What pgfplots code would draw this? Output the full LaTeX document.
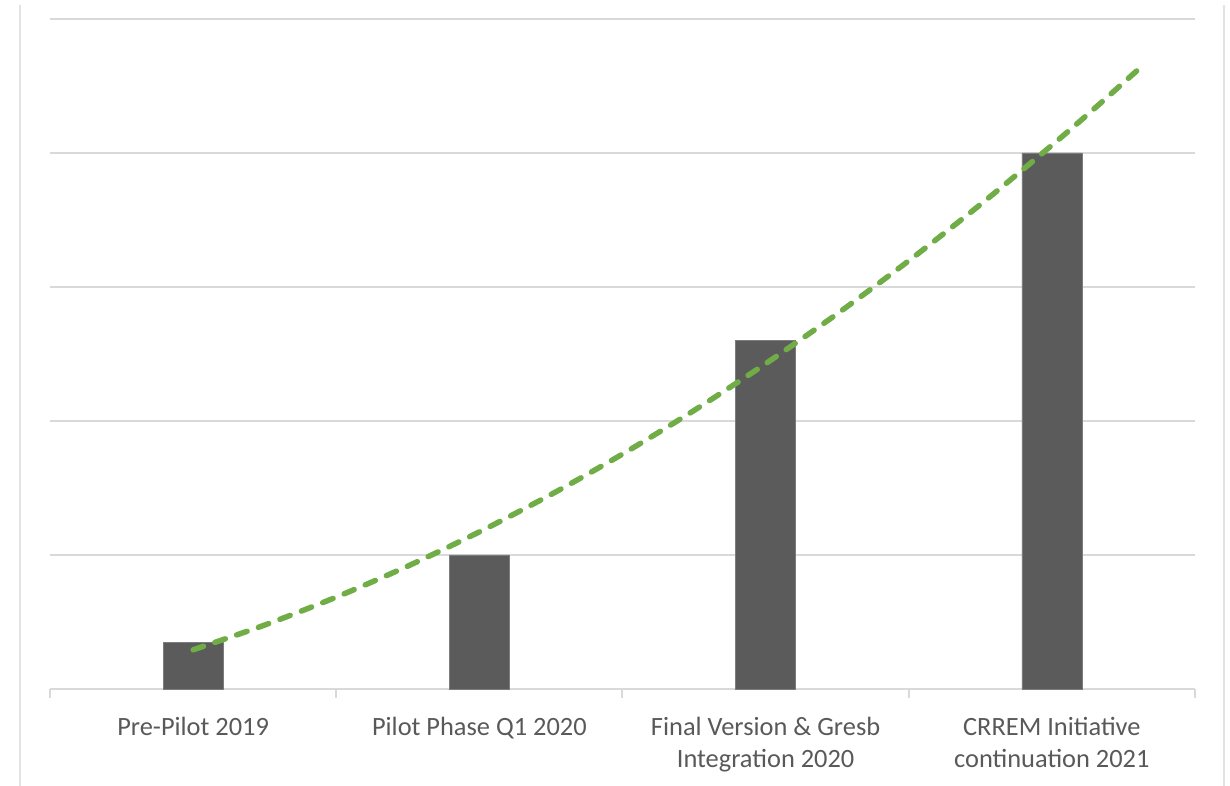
\documentclass[border=0pt]{standalone}
\usepackage{pgfplots}
\pgfplotsset{compat=1.18}
\usepackage{fontspec}
\setmainfont{Carlito}
\definecolor{bargray}{HTML}{5B5B5B}
\definecolor{gridgray}{HTML}{D9D9D9}
\definecolor{labelgray}{HTML}{595959}
\definecolor{trendgreen}{HTML}{70AD47}
\definecolor{framegray}{HTML}{E3E3E3}

\begin{document}
\begin{tikzpicture}
\path[use as bounding box] (-50pt,-97pt) rectangle (1180pt,689pt);
% faint chart frame edges
\draw[framegray, line width=1.5pt] (-30pt,-97pt) -- (-30pt,684pt);
\draw[framegray, line width=1.5pt] (1174pt,-97pt) -- (1174pt,684pt);
\begin{axis}[
  at={(0pt,0pt)}, anchor=south west,
  scale only axis, width=1145pt, height=670pt,
  xmin=0.5, xmax=4.5, ymin=0, ymax=50,
  axis x line*=bottom, axis y line*=left,
  y axis line style={draw=none},
  x axis line style={gridgray, line width=2pt, -},
  xtick={1,2,3,4},
  xticklabels={{Pre-Pilot 2019},{Pilot Phase Q1 2020},{Final Version \& Gresb\\Integration 2020},{CRREM Initiative\\continuation 2021}},
  xtick style={draw=none},
  ytick={0,10,...,50}, yticklabels={}, ytick style={draw=none},
  ymajorgrids, grid style={gridgray, line width=2pt},
  xticklabel style={font=\fontsize{26.4}{32.2}\selectfont, text=labelgray,
    align=center, anchor=north, inner sep=0pt, yshift=-28pt},
  clip=false,
]
% category separators below the axis
\foreach \x in {0.5,1.5,2.5,3.5,4.5}{
  \edef\tmp{\noexpand\draw[gridgray, line width=2pt] (axis cs:\x,0) -- ([yshift=-9pt]axis cs:\x,0);}\tmp
}
\addplot[ybar, bar width=60pt, fill=bargray, draw=bargray!80!white, line width=0.6pt]
  coordinates {(1,3.5) (2,10) (3,26) (4,40)};
% polynomial trend line (order 2), extended 0.3 period forward
\addplot[trendgreen, line width=5.5pt, dash pattern=on 11pt off 12pt, line cap=round, smooth, no markers]
  coordinates {
  (1.00,2.925) (1.25,4.773) (1.50,6.856) (1.75,9.173) (2.00,11.725)
  (2.25,14.511) (2.50,17.531) (2.75,20.786) (3.00,24.275) (3.25,27.998)
  (3.50,31.956) (3.75,36.148) (4.00,40.575) (4.15,43.343) (4.30,46.196)};
\end{axis}
\end{tikzpicture}
\end{document}
